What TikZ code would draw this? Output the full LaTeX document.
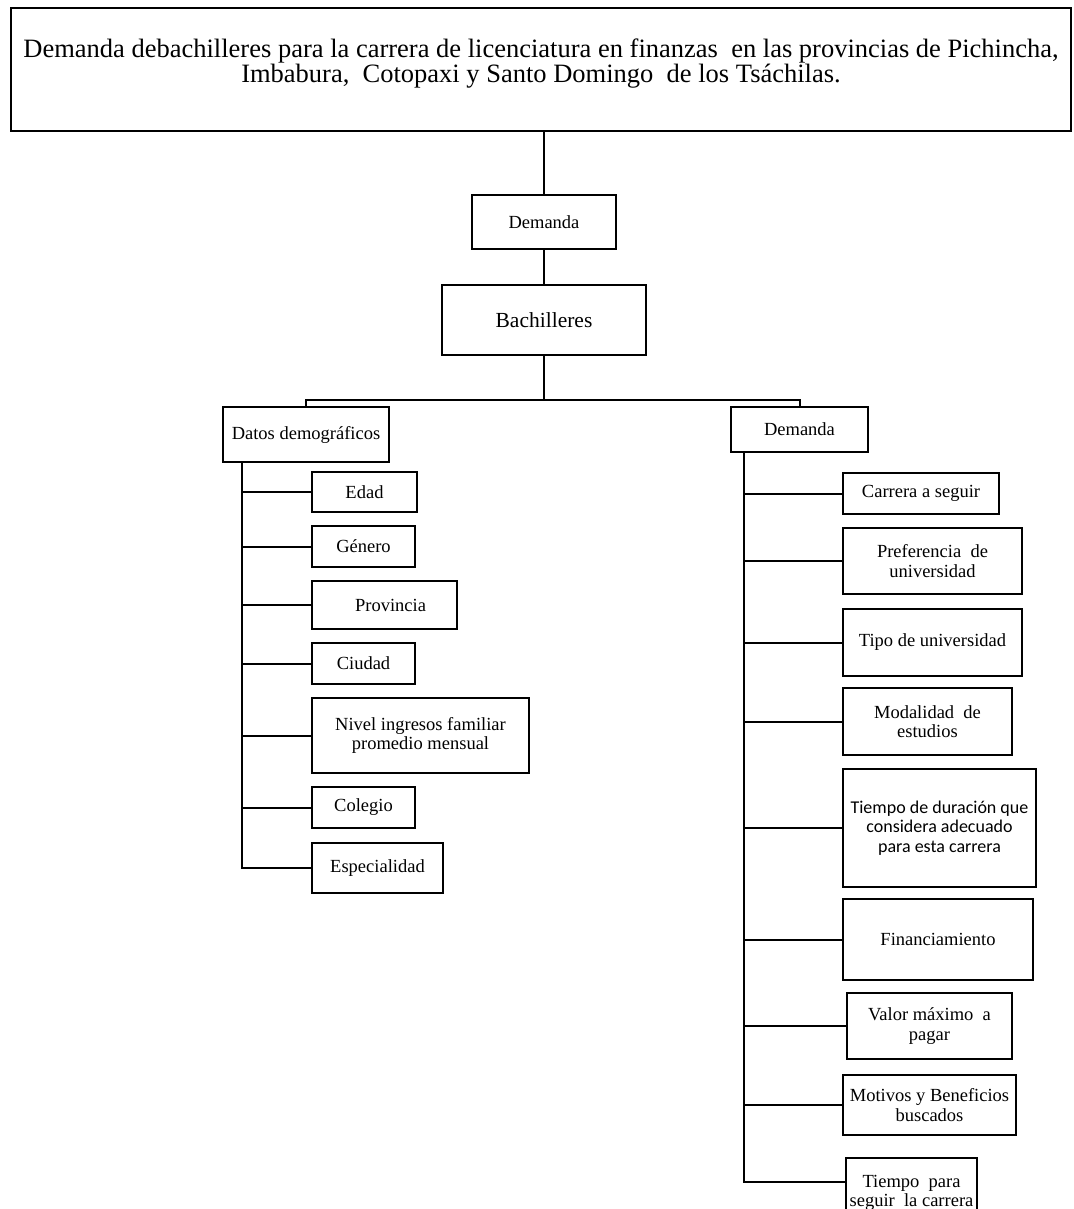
\documentclass[tikz,border=0pt]{standalone}
\usepackage{fontspec}
\setmainfont{Liberation Serif}
\newfontfamily\calib{Carlito}
\usetikzlibrary{calc}
\tikzset{
  x=1pt, y=-1pt,
  bx/.style={draw, line width=2pt, inner sep=0pt, align=center, font=\fontsize{18.5}{19.5}\selectfont},
  ln/.style={line width=2pt},
}
\newcommand{\bxat}[6]{% name, x1,y1,x2,y2, text
  \node[bx, minimum width={#4-#2}, minimum height={#5-#3}] (#1) at ({(#2+#4)/2},{(#3+#5)/2}) {#6};}
\begin{document}
\begin{tikzpicture}
\useasboundingbox (0,0) rectangle (1073,1209);
\clip (0,0) rectangle (1073,1209);
\bxat{top}{11}{8}{1071}{131}{\fontsize{26.5}{23}\selectfont Demanda debachilleres para la carrera de licenciatura en finanzas\ \ en las provincias de Pichincha,\\ \fontsize{26.5}{23}\selectfont Imbabura,\ \ Cotopaxi y Santo Domingo\ \ de los Tsáchilas.\\[-1pt]\mbox{}}
\bxat{demA}{472}{195}{616}{249}{Demanda}
\bxat{bach}{442}{285}{646}{355}{\fontsize{21.5}{23}\selectfont Bachilleres}
\bxat{datos}{223}{407}{389}{462}{Datos demográficos}
\bxat{edad}{312}{472}{417}{512}{Edad}
\bxat{genero}{312}{526}{415}{567}{Género}
\bxat{prov}{312}{581}{457}{629}{\hspace*{12pt}Provincia}
\bxat{ciudad}{312}{643}{415}{684}{Ciudad}
\bxat{nivel}{312}{698}{529}{773}{Nivel\ ingresos\ familiar\\ promedio\ mensual}
\bxat{colegio}{312}{787}{415}{828}{Colegio}
\bxat{espec}{312}{843}{443}{893}{Especialidad}
\bxat{demB}{731}{407}{868}{452}{Demanda}
\bxat{carrera}{843}{473}{999}{514}{Carrera a seguir}
\bxat{pref}{843}{528}{1022}{594}{Preferencia\ \ de\\ universidad}
\bxat{tipo}{843}{609}{1022}{676}{Tipo de universidad}
\bxat{modal}{843}{688}{1012}{755}{Modalidad\ \ de\\ estudios}
\bxat{tdur}{843}{769}{1036}{887}{\calib\fontsize{18}{20}\selectfont Tiempo de duración que\\ \calib\fontsize{18}{20}\selectfont considera adecuado\\ \calib\fontsize{18}{20}\selectfont para esta carrera}
\bxat{fin}{843}{899}{1033}{980}{Financiamiento}
\bxat{valor}{847}{993}{1012}{1059}{Valor máximo\ \ a\\ pagar}
\bxat{motiv}{843}{1075}{1016}{1135}{Motivos\ y Beneficios\\ buscados}
\bxat{tpara}{846}{1158}{977}{1228}{Tiempo\ \ para\\ seguir\ \ la carrera}
% trunk
\draw[ln] (top.south -| demA.north) -- (demA.north);
\draw[ln] (demA.south) -- (bach.north);
\coordinate (bus) at (544,400);
\draw[ln] (bach.south) -- (bus);
\draw[ln] (datos.north) |- (bus) -| (demB.north);
% left spine
\coordinate (ls) at (242,462);
\draw[ln] (ls) |- (espec.west);
\foreach \n in {edad,genero,prov,ciudad,nivel,colegio}
  \draw[ln] (ls |- \n.west) -- (\n.west);
% right spine
\coordinate (rs) at (744,452);
\coordinate (tpc) at ($(tpara.north west)+(0,25)$);
\draw[ln] (rs) |- (tpc);
\foreach \n in {carrera,pref,tipo,modal,tdur,fin,valor,motiv}
  \draw[ln] (rs |- \n.west) -- (\n.west);
\end{tikzpicture}
\end{document}
